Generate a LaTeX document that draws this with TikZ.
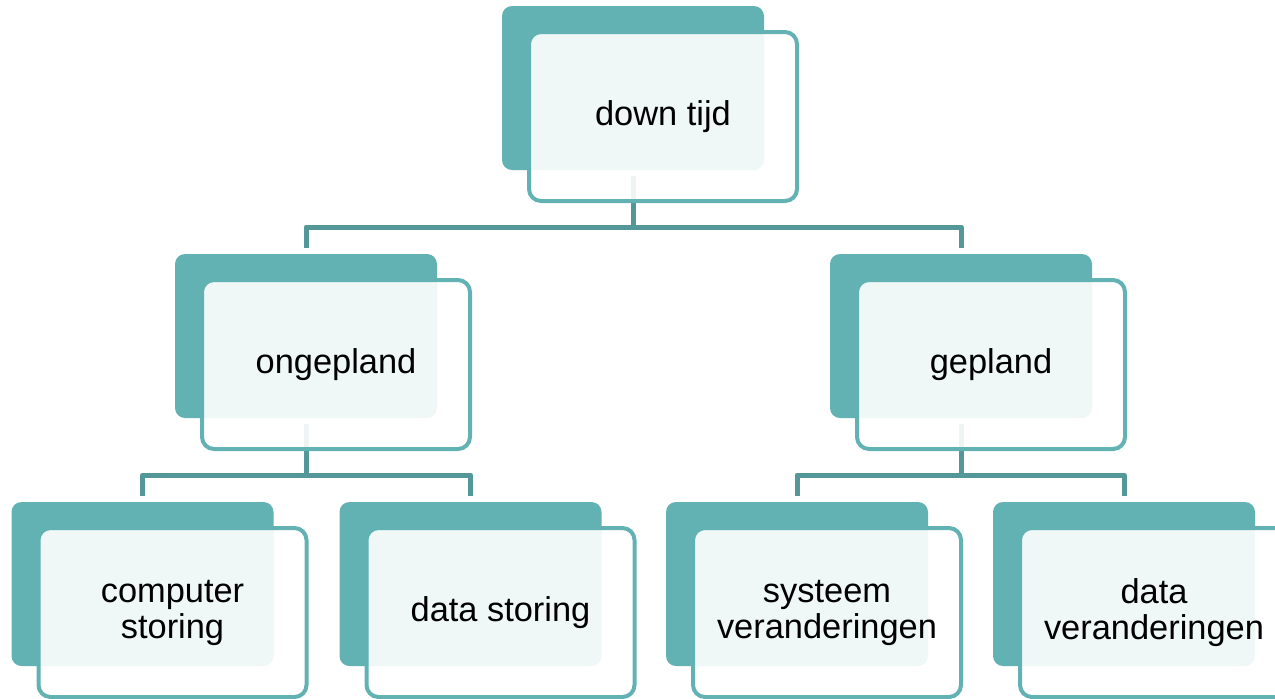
\documentclass[tikz,border=0pt]{standalone}
\usepackage{fontspec}
\setmainfont{Liberation Sans}
\usetikzlibrary{backgrounds}
\definecolor{tealbox}{RGB}{99,178,179}
\definecolor{tealline}{RGB}{84,151,152}
\tikzset{
  backbox/.style={rectangle, rounded corners=5pt, fill=tealbox, draw=none,
    minimum width=131pt, minimum height=82pt, inner sep=0pt},
  frontbox/.style={rectangle, rounded corners=6pt, draw=tealbox, line width=2pt,
    fill=white, fill opacity=0.9, text opacity=1,
    minimum width=134pt, minimum height=84.5pt, inner sep=0pt, align=center,
    font=\fontsize{17.2pt}{18pt}\selectfont},
  conn/.style={draw=tealline, line width=2.5pt, line join=round}
}
\begin{document}
\begin{tikzpicture}[x=0.5pt,y=-0.5pt]
\useasboundingbox (0,0) rectangle (1275,698);
\clip (0,0) rectangle (1275,698);
% back boxes and front boxes
\node[backbox] (top) at (633,88) {};
\node[frontbox] (topf) at ([xshift=15pt,yshift=-14.25pt]top.center) {down tijd};
\node[backbox] (ong) at (306,336) {};
\node[frontbox] (ongf) at ([xshift=15pt,yshift=-14.25pt]ong.center) {ongepland};
\node[backbox] (gep) at (961,336) {};
\node[frontbox] (gepf) at ([xshift=15pt,yshift=-14.25pt]gep.center) {gepland};
\node[backbox] (cs) at (142.5,584) {};
\node[frontbox] (csf) at ([xshift=15pt,yshift=-14.25pt]cs.center) {computer\\storing};
\node[backbox] (ds) at (470.5,584) {};
\node[frontbox] (dsf) at ([xshift=15pt,yshift=-14.25pt]ds.center) {data storing};
\node[backbox] (sv) at (797,584) {};
\node[frontbox] (svf) at ([xshift=15pt,yshift=-14.25pt]sv.center) {systeem\\veranderingen};
\node[backbox] (dv) at (1124,584) {};
\node[frontbox] (dvf) at ([xshift=15pt,yshift=-14.25pt]dv.center) {data\\veranderingen};
% connectors
\begin{pgfonlayer}{background}
\coordinate (j1) at (633,227);
\coordinate (j2) at (306,475);
\coordinate (j3) at (961,475);
\draw[conn] ([yshift=-3pt]top.south) -- (top.south |- j1) -| ([yshift=3pt]ong.north);
\draw[conn] (top.south |- j1) -| ([yshift=3pt]gep.north);
\draw[conn] ([yshift=-3pt]ong.south) -- (ong.south |- j2) -| ([yshift=3pt]cs.north);
\draw[conn] (ong.south |- j2) -| ([yshift=3pt]ds.north);
\draw[conn] ([yshift=-3pt]gep.south) -- (gep.south |- j3) -| ([yshift=3pt]sv.north);
\draw[conn] (gep.south |- j3) -| ([yshift=3pt]dv.north);
\end{pgfonlayer}
\end{tikzpicture}
\end{document}
